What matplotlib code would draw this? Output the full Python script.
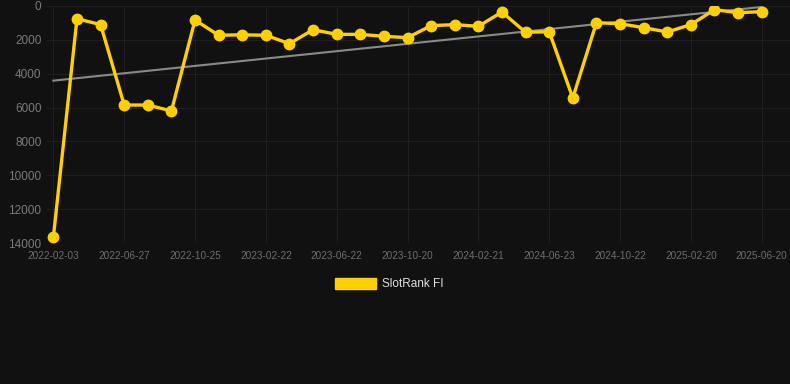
import matplotlib
matplotlib.use('Agg')
import matplotlib.pyplot as plt
from matplotlib.patches import Patch
import numpy as np

plt.rcParams['font.family'] = ['Liberation Sans', 'DejaVu Sans']

# rank per snapshot (lower is better), equally spaced snapshots
ranks = [13650, 750, 1100, 5850, 5850, 6200, 830, 1730, 1700, 1730,
         2225, 1400, 1675, 1675, 1790, 1870, 1160, 1100, 1200, 355,
         1555, 1515, 5435, 985, 1045, 1280, 1535, 1100, 215, 395, 335]
tick_labels = ['2022-02-03', '2022-06-27', '2022-10-25', '2023-02-22',
               '2023-06-22', '2023-10-20', '2024-02-21', '2024-06-23',
               '2024-10-22', '2025-02-20', '2025-06-20']
series_name = 'SlotRank FI'

bg = '#111111'
gold = '#FFD000'

fig = plt.figure(figsize=(7.9, 3.84), dpi=100, facecolor=bg)
ax = fig.add_axes([47 / 790, 1 - 243 / 384, 743 / 790, 237 / 384])
ax.set_facecolor(bg)

x = np.arange(len(ranks))
# linear trend over the series
k, b = np.polyfit(x, ranks, 1)
ax.plot([x[0], x[-1]], [k * x[0] + b, k * x[-1] + b], color='#8a8a8a', lw=1.5, zorder=2)

ax.plot(x, ranks, color=gold, lw=2.4, marker='o', markersize=7.5,
        markerfacecolor=gold, markeredgecolor=gold, zorder=3)

ax.set_xlim(-0.27, 31.2)
ax.set_ylim(14000, 0)
ax.set_yticks(range(0, 14001, 2000))
ax.set_xticks(x[::3])
ax.set_xticklabels(tick_labels)

ax.grid(True, color='#1f1f1f', lw=0.8)
ax.set_axisbelow(True)
for s in ax.spines.values():
    s.set_visible(False)
ax.tick_params(axis='both', length=0)
ax.tick_params(axis='y', labelsize=8.5, labelcolor='#7a7a7a', pad=4)
ax.tick_params(axis='x', labelsize=7.2, labelcolor='#6e6e6e', pad=6)

leg = fig.legend(handles=[Patch(facecolor=gold, edgecolor=gold)], labels=[series_name],
                 loc='center', bbox_to_anchor=(389 / 790, 1 - 284 / 384),
                 frameon=False, fontsize=8.5, labelcolor='#e0e0e0',
                 handlelength=3.5, handleheight=1.1, handletextpad=0.5)

fig.savefig('out.png', dpi=100, facecolor=bg)
